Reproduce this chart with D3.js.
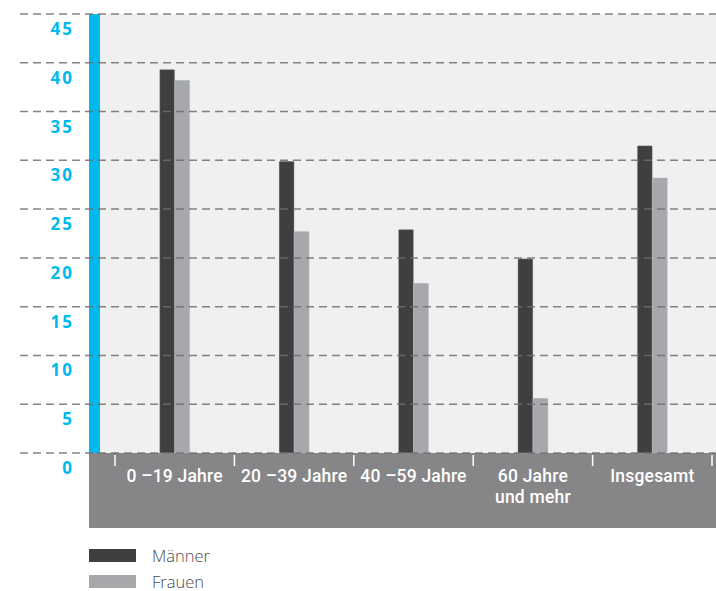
<!DOCTYPE html>
<html>
<head>
<meta charset="utf-8">
<script src="https://cdn.jsdelivr.net/npm/d3@7/dist/d3.min.js"></script>
<style>
  html, body { margin: 0; padding: 0; background: #ffffff; }
  svg { display: block; }
</style>
</head>
<body>
<svg id="chart" width="716" height="591"></svg>
<script>
// Age groups (labels may wrap onto two lines)
const categories = [["0 –19 Jahre"], ["20 –39 Jahre"], ["40 –59 Jahre"], ["60 Jahre", "und mehr"], ["Insgesamt"]];
const maenner = [39.3, 29.9, 22.9, 19.9, 31.5];
const frauen  = [38.2, 22.7, 17.4, 5.6, 28.2];
const yTicks = [0, 5, 10, 15, 20, 25, 30, 35, 40, 45];
const seriesNames = ["Männer", "Frauen"];
const seriesColors = ["#3f3f3f", "#a7a8ab"];

const svg = d3.select("#chart");

const y = d3.scaleLinear().domain([0, 45]).range([453, 14]);
const x = d3.scaleBand().domain(d3.range(categories.length)).range([115, 712]);
const inner = d3.scaleBand().domain([0, 1]).range([0, 30]);

// plot background
svg.append("rect").attr("x", 100).attr("y", y(45)).attr("width", 616).attr("height", y(0) - y(45))
  .attr("fill", "#f0f0f0");

// bottom category band
svg.append("rect").attr("x", 89).attr("y", y(0)).attr("width", 627).attr("height", 75)
  .attr("fill", "#868688");

// blue axis bar
svg.append("rect").attr("x", 89).attr("y", y(45)).attr("width", 11).attr("height", y(0) - y(45))
  .attr("fill", "#00b9ee");

// bars
const groups = svg.append("g").selectAll("g").data(categories).join("g")
  .attr("transform", (d, i) => `translate(${x(i) + x.bandwidth() / 2 - 15},0)`);
[maenner, frauen].forEach((vals, s) => {
  groups.append("rect")
    .attr("x", (d, i) => inner(s))
    .attr("y", (d, i) => y(vals[i]))
    .attr("width", inner.bandwidth())
    .attr("height", (d, i) => y(0) - y(vals[i]))
    .attr("rx", 1)
    .attr("fill", seriesColors[s])
    .attr("stroke", "#b7bec4").attr("stroke-width", 0.6).attr("stroke-opacity", 0.6);
});

// dashed grid lines drawn over bars
svg.append("g").selectAll("line").data(yTicks).join("line")
  .attr("x1", 20).attr("x2", 716)
  .attr("y1", d => y(d)).attr("y2", d => y(d))
  .attr("stroke", "#6f6f6f").attr("stroke-width", 1.5)
  .attr("stroke-dasharray", "8,5").attr("stroke-opacity", 0.85);

// y tick labels
svg.append("g").selectAll("text").data(yTicks).join("text")
  .attr("x", 74).attr("y", d => y(d) + 21)
  .attr("text-anchor", "end")
  .attr("font-family", "'Open Sans', sans-serif").attr("font-weight", 700)
  .attr("font-size", 17).attr("letter-spacing", 2)
  .attr("fill", "#00b9ee")
  .text(d => d);

// category separators
const sepX = x.domain().map(i => x(i)).concat([x(categories.length - 1) + x.bandwidth()]);
svg.append("g").selectAll("line").data(sepX).join("line")
  .attr("x1", d => d).attr("x2", d => d).attr("y1", 455).attr("y2", 466)
  .attr("stroke", "#ffffff").attr("stroke-width", 1.5);

// category labels, one text element per line
const labelLines = categories.flatMap((lines, i) => lines.map((t, j) => ({ t, i, j })));
svg.append("g").selectAll("text").data(labelLines).join("text")
  .attr("x", d => x(d.i) + x.bandwidth() / 2)
  .attr("y", d => 482 + d.j * 20.5)
  .attr("text-anchor", "middle")
  .attr("font-family", "Roboto, sans-serif").attr("font-weight", 500)
  .attr("font-size", 17.5).attr("letter-spacing", 0.2).attr("fill", "#ffffff")
  .text(d => d.t);

// legend
const legend = svg.append("g").selectAll("g").data(seriesNames).join("g")
  .attr("transform", (d, i) => `translate(89,${549 + i * 26})`);
legend.append("rect").attr("width", 47).attr("height", 13).attr("fill", (d, i) => seriesColors[i]);
legend.append("text").attr("x", 63).attr("y", 12.5)
  .attr("font-family", "'Open Sans', sans-serif").attr("font-weight", 300)
  .attr("font-size", 16.5).attr("fill", "#4a4a4a")
  .text(d => d);
</script>
</body>
</html>
